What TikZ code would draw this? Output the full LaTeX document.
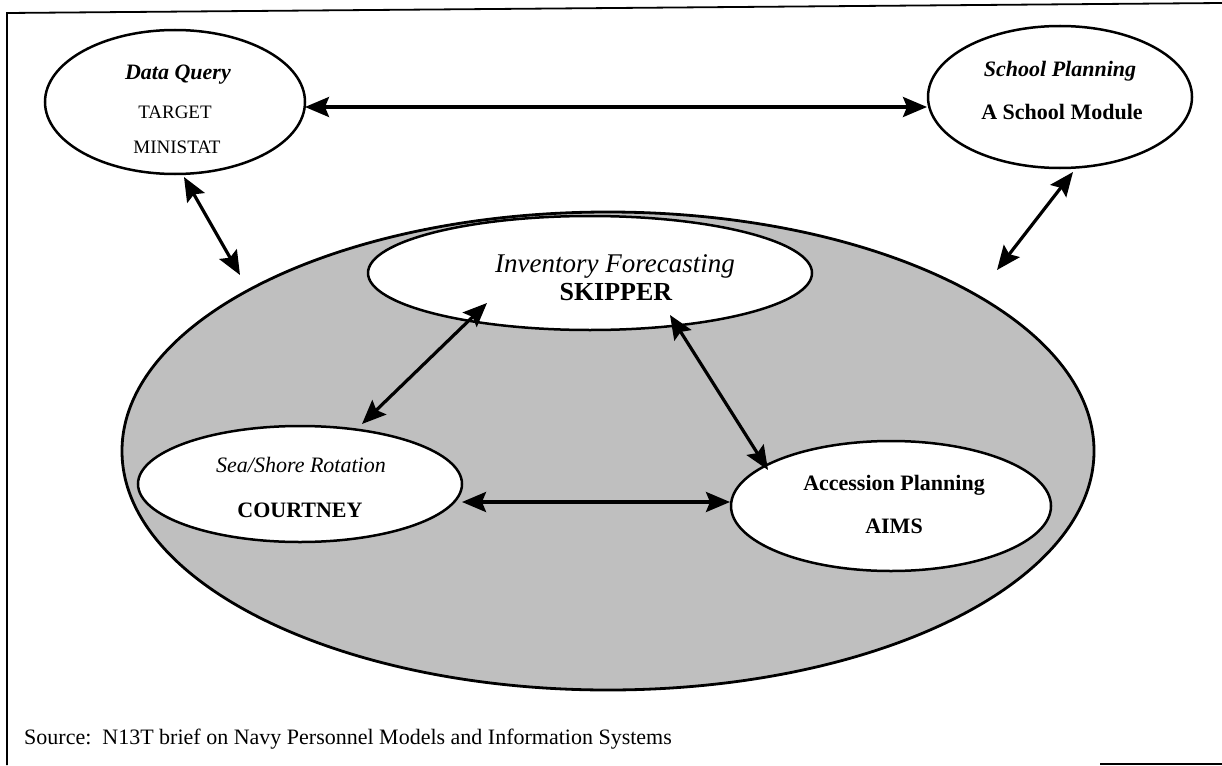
\documentclass[tikz,border=0pt]{standalone}
\usepackage{fontspec}
\setmainfont{Liberation Serif}
\usetikzlibrary{arrows.meta,shapes.geometric}
\begin{document}
\begin{tikzpicture}[x=1pt,y=-1pt,
  oval/.style={draw, ellipse, line width=2.5pt, fill=white, inner sep=0pt, outer sep=0pt},
  lbl/.style={anchor=base, inner sep=0pt},
  fa/.style={font=\fontsize{22}{26}\selectfont},
  fb/.style={font=\fontsize{19}{23}\selectfont},
  fc/.style={font=\fontsize{27}{31}\selectfont},
  link/.style={line width=3.2pt, {Stealth[length=24pt,width=20pt,inset=4pt]}-{Stealth[length=24pt,width=20pt,inset=4pt]}},
  frameline/.style={line width=1.8pt}]
\useasboundingbox (0,0) rectangle (1222,765);
% frame
\draw[frameline] (7,765) -- (7,13) -- (1222,3);
\draw[frameline] (1100,764) -- (1222,764);
% big shaded ellipse
\node[oval, fill=black!25, line width=2.8pt, minimum width=972pt, minimum height=478pt] (big) at (608,451) {};
% inner ellipses
\node[oval, minimum width=444pt, minimum height=114pt] (inv) at (590,273) {};
\node[oval, minimum width=324pt, minimum height=116pt] (ss) at (300,484) {};
\node[oval, minimum width=320pt, minimum height=130pt] (acc) at (891,506) {};
\node[oval, minimum width=260pt, minimum height=144pt] (dq) at (175,102) {};
\node[oval, minimum width=264pt, minimum height=142pt] (sp) at (1060,97) {};
% labels
\node[lbl, fa] (dq1) at (178,80) {\textbf{\textit{Data Query}}};
\node[lbl, fb] (dq2) at (175,118) {TARGET};
\node[lbl, fb] (dq3) at (177,153) {MINISTAT};
\node[lbl, fa] (sp1) at (1060,77) {\textbf{\textit{School Planning}}};
\node[lbl, fa] (sp2) at (1062,120) {\textbf{A School Module}};
\node[lbl, fc] (inv1) at (615,272) {\textit{Inventory Forecasting}};
\node[lbl, font=\fontsize{26}{30}\selectfont] (inv2) at (616,300) {\textbf{SKIPPER}};
\node[lbl, fa] (ss1) at (301,472) {\textit{Sea/Shore Rotation}};
\node[lbl, fa] (ss2) at (300,517) {\textbf{COURTNEY}};
\node[lbl, fa] (acc1) at (894,490) {\textbf{Accession Planning}};
\node[lbl, fa] (acc2) at (894,533) {\textbf{AIMS}};
\node[inner sep=0pt, anchor=base west, fa] (src) at (24,744) {Source:\ \ N13T brief on Navy Personnel Models and Information Systems};
% connector end points
\coordinate (c1a) at (305,107); \coordinate (c1b) at (927,107);
\coordinate (c2a) at (184,177); \coordinate (c2b) at (240,275);
\coordinate (c3a) at (1073,172); \coordinate (c3b) at (997,270);
\coordinate (c4a) at (487,303); \coordinate (c4b) at (362,424);
\coordinate (c5a) at (670,315); \coordinate (c5b) at (768,470);
\coordinate (c6a) at (462,502); \coordinate (c6b) at (730,502);
% connectors
\draw[link] (c1a) -- (c1b);
\draw[link] (c2a) -- (c2b);
\draw[link] (c3a) -- (c3b);
\draw[link] (c4a) -- (c4b);
\draw[link] (c5a) -- (c5b);
\draw[link] (c6a) -- (c6b);
\end{tikzpicture}
\end{document}
